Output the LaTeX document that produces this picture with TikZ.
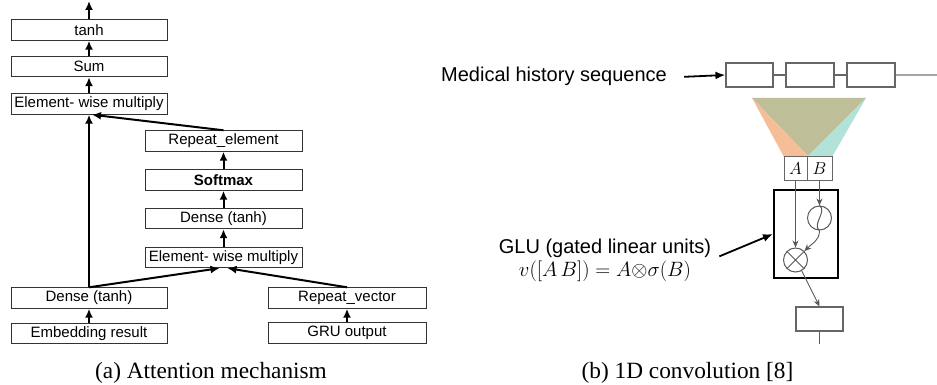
\documentclass[tikz,border=0pt]{standalone}
\usepackage{fontspec}
\newfontfamily\arial{Liberation Sans}
\newfontfamily\timesf{Liberation Serif}
\usetikzlibrary{arrows.meta}
\definecolor{cOr}{RGB}{246,190,150}
\definecolor{cTe}{RGB}{178,226,216}
\definecolor{cOl}{RGB}{190,190,152}
\begin{document}
\begin{tikzpicture}[x=1pt,y=-1pt,
 lbox/.style={draw=black!80, line width=0.9pt, minimum width=156pt, minimum height=20.5pt, inner sep=0pt, font=\arial\fontsize{15}{18}\selectfont},
 arr/.style={line width=2pt, -{Latex[length=9pt,width=8pt]}},
 barr/.style={line width=1.8pt, -{Latex[length=10pt,width=8pt]}},
 sbox/.style={draw=black!60, line width=1.2pt, inner sep=0pt},
 gline/.style={draw=black!65, line width=0.9pt},
 garr/.style={gline, -{Stealth[length=7pt,width=6pt]}},
 rtext/.style={font=\arial\fontsize{20}{24}\selectfont, anchor=base, inner sep=0pt},
 captext/.style={font=\timesf\fontsize{23.3}{27}\selectfont, anchor=base}
]
\useasboundingbox (0,0) rectangle (937,385);
% ---------- (a) attention mechanism ----------
\node[lbox] (tanh) at (89,30) {tanh};
\node[lbox] (sum) at (89,66.5) {Sum};
\node[lbox] (ewm1) at (89,104) {Element- wise multiply};
\node[lbox] (dense1) at (89,298) {Dense (tanh)};
\node[lbox] (emb) at (89,333.5) {Embedding result};
\node[lbox,minimum width=157pt] (rep) at (223.5,141) {Repeat\_element};
\node[lbox,minimum width=157pt] (soft) at (223.5,180) {\bfseries Softmax};
\node[lbox,minimum width=157pt] (dense2) at (223.5,218.5) {Dense (tanh)};
\node[lbox,minimum width=157pt] (ewm2) at (223.5,257.5) {Element- wise multiply};
\node[lbox,minimum width=158pt] (repv) at (347,298) {Repeat\_vector};
\node[lbox,minimum width=158pt] (gru) at (347,333) {GRU output};
\coordinate (top) at (89,1);
\draw[arr] (tanh.north) -- (top);
\draw[arr] (sum.north) -- (tanh.south);
\draw[arr] (ewm1.north) -- (sum.south);
\draw[arr] (dense1.north) -- (ewm1.south);
\draw[arr] (rep.north) -- ([xshift=3pt]ewm1.south);
\draw[arr] (soft.north) -- (rep.south);
\draw[arr] (dense2.north) -- (soft.south);
\draw[arr] (ewm2.north) -- (dense2.south);
\draw[arr] (dense1.north) -- ([xshift=-4pt]ewm2.south);
\draw[arr] (repv.north) -- ([xshift=4pt]ewm2.south);
\draw[arr] (emb.north) -- (dense1.south);
\draw[arr] (gru.north) -- (repv.south);
% ---------- (b) 1D convolution ----------
\node[rtext] (med) at (554,82) {Medical history sequence};
\node[sbox, minimum width=47pt, minimum height=24pt] (s1) at (749.5,75) {};
\node[sbox, minimum width=48pt, minimum height=24pt] (s2) at (810,75) {};
\node[sbox, minimum width=48pt, minimum height=24pt] (s3) at (871,75) {};
\coordinate (send) at (937,75);
\draw[black!60, line width=1.2pt] (s1) -- (s2) (s2) -- (s3);
\draw[black!35, line width=1.2pt] (s3) -- (send);
\draw[barr] ([xshift=17pt]med.east) -- (s1.west);
% receptive field
\fill[cOl] (752,98) -- (866,98) -- (808,156) -- cycle;
\fill[cOr] (752,98) -- (808,156) -- (784,157) -- cycle;
\fill[cTe] (866,98) -- (832,157) -- (808,156) -- cycle;
\node[sbox, line width=1pt, minimum width=23pt, minimum height=23pt, font=\fontsize{17}{20}\selectfont] (A) at (795.5,168.5) {$A$};
\node[sbox, line width=1pt, minimum width=25pt, minimum height=23pt, font=\fontsize{17}{20}\selectfont] (B) at (819.5,168.5) {$B$};
% GLU block
\node[draw, line width=2pt, minimum width=64pt, minimum height=88pt, inner sep=0pt] (glu) at (806,234) {};
\node[circle, gline, line width=1pt, minimum size=24pt, inner sep=0pt] (sig) at (819.5,218) {};
\draw[gline, line width=1pt] (sig.north) .. controls +(8,6) and +(-8,-6) .. (sig.south);
\node[circle, gline, line width=1pt, minimum size=24pt, inner sep=0pt] (ot) at (795.5,260) {};
\draw[gline, line width=1pt] (ot.north west) -- (ot.south east) (ot.north east) -- (ot.south west);
\draw[garr] (A.south) -- (ot.north);
\draw[garr] (B.south) -- (sig.north);
\draw[garr] (sig.south) .. controls +(0,10) and +(8,-8) .. (ot.north east);
\node[sbox, minimum width=47pt, minimum height=24pt] (out) at (819.5,319) {};
\draw[garr] (ot.-60) -- (out.north);
\coordinate (outend) at (819.5,344);
\draw[gline, line width=1pt] (out.south) -- (outend);
\node[rtext] (glu1) at (605,253) {GLU (gated linear units)};
\node[rtext] (glu2) at (605,276) {$v([A\,B]) = A{\otimes}\sigma(B)$};
\draw[barr] ([xshift=8pt,yshift=1pt]glu1.south east) -- (glu.west);
% captions
\node[captext] (capa) at (211,378) {(a) Attention mechanism};
\node[captext] (capb) at (687.5,378) {(b) 1D convolution [8]};
\end{tikzpicture}
\end{document}
